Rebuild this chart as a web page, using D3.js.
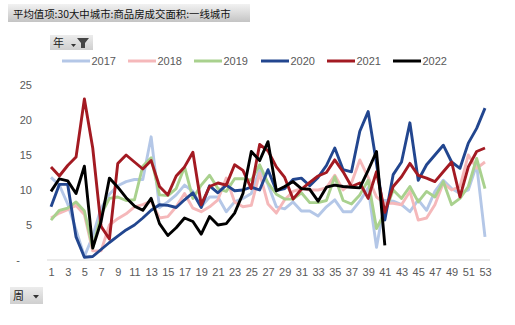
<!DOCTYPE html>
<html>
<head>
<meta charset="utf-8">
<script src="https://cdn.jsdelivr.net/npm/d3@7"></script>
<style>
  html, body { margin: 0; padding: 0; background: #fff; }
  svg { display: block; }
  text { font-family: "Liberation Sans", Arial, "Noto Sans CJK SC", sans-serif; }
  .cjk { font-family: "Noto Sans CJK SC", "Liberation Sans", sans-serif; }
</style>
</head>
<body>
<svg id="chart" width="515" height="325"></svg>
<script>
// Weekly average transaction area, tier-1 cities, by year
const weeks = d3.range(1, 54);
const weekTicks = d3.range(1, 54, 2);
const yTicks = [0, 5, 10, 15, 20, 25];
const years = ["2017", "2018", "2019", "2020", "2021", "2022"];
const colors = ["#b4c7e7", "#f5b8ba", "#a9d18e", "#22468f", "#a31a22", "#000000"];

const v2017 = [11.8, 10.7, 8.0, 4.3, 0.5, 3.4, 7.4, 9.4, 10.6, 11.2, 11.5, 11.5, 17.6, 7.5,
  8.3, 9.3, 10.7, 9.8, 7.6, 9.0, 9.0, 6.9, 8.3, 8.8, 9.5, 12.9, 10.8, 7.6, 7.3, 8.3,
  7.0, 7.0, 6.3, 7.6, 8.6, 6.9, 6.9, 8.4, 10.3, 1.8, 8.5, 8.4, 7.9, 6.9, 8.6, 7.1,
  9.8, 11.4, 10.2, 9.5, 10.0, 13.6, 3.3];
const v2018 = [6.0, 6.7, 7.2, 7.8, 6.5, 1.3, 1.3, 5.0, 5.9, 6.6, 7.6, 7.9, 8.4, 6.0,
  6.2, 7.6, 9.5, 7.4, 6.9, 7.6, 8.6, 11.7, 8.3, 7.6, 7.8, 12.4, 8.0, 6.7, 8.6, 9.8,
  10.2, 10.0, 10.0, 10.3, 12.1, 10.0, 11.0, 14.3, 11.8, 9.0, 8.1, 8.1, 7.9, 9.8, 5.7,
  6.0, 7.9, 11.0, 10.0, 10.5, 15.0, 13.1, 14.0];
const v2019 = [5.7, 7.1, 7.4, 8.3, 7.0, 1.7, 6.5, 8.8, 9.0, 8.5, 8.6, 13.4, 14.6, 9.3,
  9.2, 10.2, 13.3, 8.8, 10.7, 12.1, 10.2, 9.8, 11.6, 11.6, 11.4, 13.6, 11.0, 9.4, 8.7,
  8.7, 9.6, 8.2, 8.2, 8.5, 11.9, 8.5, 8.0, 9.3, 11.4, 4.5, 6.8, 10.0, 8.8, 10.5, 8.3,
  9.8, 9.0, 11.2, 7.9, 8.8, 10.5, 14.5, 10.2];
const v2020 = [7.6, 10.8, 10.8, 3.3, 0.4, 0.5, 1.5, 2.5, 3.4, 4.3, 5.0, 6.0, 7.1, 7.9,
  7.8, 7.5, 8.6, 9.6, 7.5, 10.6, 9.6, 10.7, 9.9, 10.0, 10.4, 10.0, 12.9, 9.9, 10.2,
  11.5, 11.7, 10.6, 11.8, 13.5, 16.0, 12.9, 12.6, 18.4, 21.2, 13.8, 5.7, 12.2, 14.0,
  19.6, 11.4, 13.6, 15.0, 16.4, 14.0, 13.1, 16.7, 18.8, 21.7];
const v2021 = [13.3, 12.0, 13.5, 14.7, 23.0, 16.0, 4.8, 3.0, 13.8, 15.0, 14.0, 13.0,
  14.2, 10.5, 9.3, 12.0, 13.3, 15.4, 7.9, 10.5, 11.0, 10.7, 13.6, 12.8, 10.2, 16.5,
  15.6, 13.3, 11.8, 8.7, 10.1, 11.1, 12.0, 12.5, 14.3, 12.6, 10.5, 11.0, 8.8, 12.6,
  6.8, 10.5, 11.9, 13.8, 12.1, 11.7, 11.2, 12.6, 14.0, 9.0, 13.3, 15.5, 16.0];
const v2022 = [9.8, 11.6, 11.3, 9.5, 13.4, 1.7, 5.5, 11.7, 10.4, 8.9, 7.7, 7.1, 8.8,
  5.2, 3.5, 4.6, 6.0, 5.5, 3.7, 6.2, 5.0, 5.2, 6.7, 9.5, 15.5, 14.2, 16.9, 9.9, 10.5,
  11.2, 10.2, 10.1, 8.4, 10.4, 10.7, 10.5, 10.4, 10.3, 12.8, 15.5, 2.1];

const seriesValues = [v2017, v2018, v2019, v2020, v2021, v2022];

const svg = d3.select("#chart");
const defs = svg.append("defs");

// Grey gradient used by the header bar and the field buttons
const grad = defs.append("linearGradient").attr("id", "barGrad")
  .attr("x1", 0).attr("y1", 0).attr("x2", 0).attr("y2", 1);
grad.append("stop").attr("offset", "0%").attr("stop-color", "#f2f2f2");
grad.append("stop").attr("offset", "100%").attr("stop-color", "#c4c4c4");

const btnGrad = defs.append("linearGradient").attr("id", "btnGrad")
  .attr("x1", 0).attr("y1", 0).attr("x2", 0).attr("y2", 1);
btnGrad.append("stop").attr("offset", "0%").attr("stop-color", "#ececec");
btnGrad.append("stop").attr("offset", "100%").attr("stop-color", "#cfcfcf");

// Header bar
svg.append("rect").attr("x", 8).attr("y", 4).attr("width", 242).attr("height", 18)
  .attr("fill", "url(#barGrad)");
svg.append("text").attr("class", "cjk").attr("x", 13).attr("y", 17.5)
  .attr("font-size", 10.4).attr("fill", "#111")
  .text("平均值项:30大中城市:商品房成交面积:一线城市");

// Year filter button
const yb = svg.append("g").attr("transform", "translate(50,35)");
yb.append("rect").attr("width", 43).attr("height", 15).attr("fill", "url(#btnGrad)");
yb.append("text").attr("class", "cjk").attr("x", 3).attr("y", 12)
  .attr("font-size", 11).attr("fill", "#222").text("年");
yb.append("path").attr("d", "M21,9 L26,9 L23.5,12 Z").attr("fill", "#333");
yb.append("path").attr("d", "M27,3 L39,3 L35,8 L35,13 L31,13 L31,8 Z").attr("fill", "#444");

// Week field button
const wb = svg.append("g").attr("transform", "translate(10,287)");
wb.append("rect").attr("width", 33).attr("height", 17).attr("fill", "url(#btnGrad)");
wb.append("text").attr("class", "cjk").attr("x", 3).attr("y", 13)
  .attr("font-size", 11).attr("fill", "#222").text("周");
wb.append("path").attr("d", "M23,8 L29,8 L26,11.5 Z").attr("fill", "#333");

// Scales
const x = d3.scaleLinear().domain([1, 53]).range([51, 485]);
const y = d3.scaleLinear().domain([0, 25]).range([260, 85]);

// Baseline
svg.append("line").attr("x1", 47).attr("x2", 490)
  .attr("y1", y(0)).attr("y2", y(0))
  .attr("stroke", "#d9d9d9").attr("stroke-width", 1);

// X axis
const xAxis = svg.append("g").attr("transform", `translate(0,${y(0)})`)
  .call(d3.axisBottom(x).tickValues(weekTicks).tickSize(0).tickPadding(8)
    .tickFormat(d3.format("d")));
xAxis.select(".domain").remove();
xAxis.selectAll("text").attr("font-size", 11).attr("fill", "#595959")
  .attr("font-family", "'Liberation Sans', Arial, sans-serif");

// Y axis
const yAxis = svg.append("g").attr("transform", "translate(33,0)")
  .call(d3.axisLeft(y).tickValues(yTicks).tickSize(0).tickPadding(1)
    .tickFormat(d => d === 0 ? "-" : d));
yAxis.select(".domain").remove();
yAxis.selectAll("text").attr("font-size", 11).attr("fill", "#595959")
  .attr("font-family", "'Liberation Sans', Arial, sans-serif");
yAxis.selectAll(".tick").filter(d => d === 0).select("text").attr("x", -13);

// Lines
const line = d3.line().x((d, i) => x(weeks[i])).y(d => y(d));
seriesValues.forEach((vals, k) => {
  svg.append("path").datum(vals)
    .attr("d", line)
    .attr("fill", "none")
    .attr("stroke", colors[k])
    .attr("stroke-width", 2.9)
    .attr("stroke-linejoin", "round")
    .attr("stroke-linecap", "butt");
});

// Legend
const legendX = [62, 128, 194, 261, 327, 393];
const legend = svg.append("g");
years.forEach((yr, k) => {
  const g = legend.append("g").attr("transform", `translate(${legendX[k]},61)`);
  g.append("line").attr("x1", 0).attr("x2", 28).attr("y1", 0).attr("y2", 0)
    .attr("stroke", colors[k]).attr("stroke-width", 3);
  g.append("text").attr("x", 29.5).attr("y", 4).attr("font-size", 11)
    .attr("fill", "#595959").text(yr);
});
</script>
</body>
</html>
